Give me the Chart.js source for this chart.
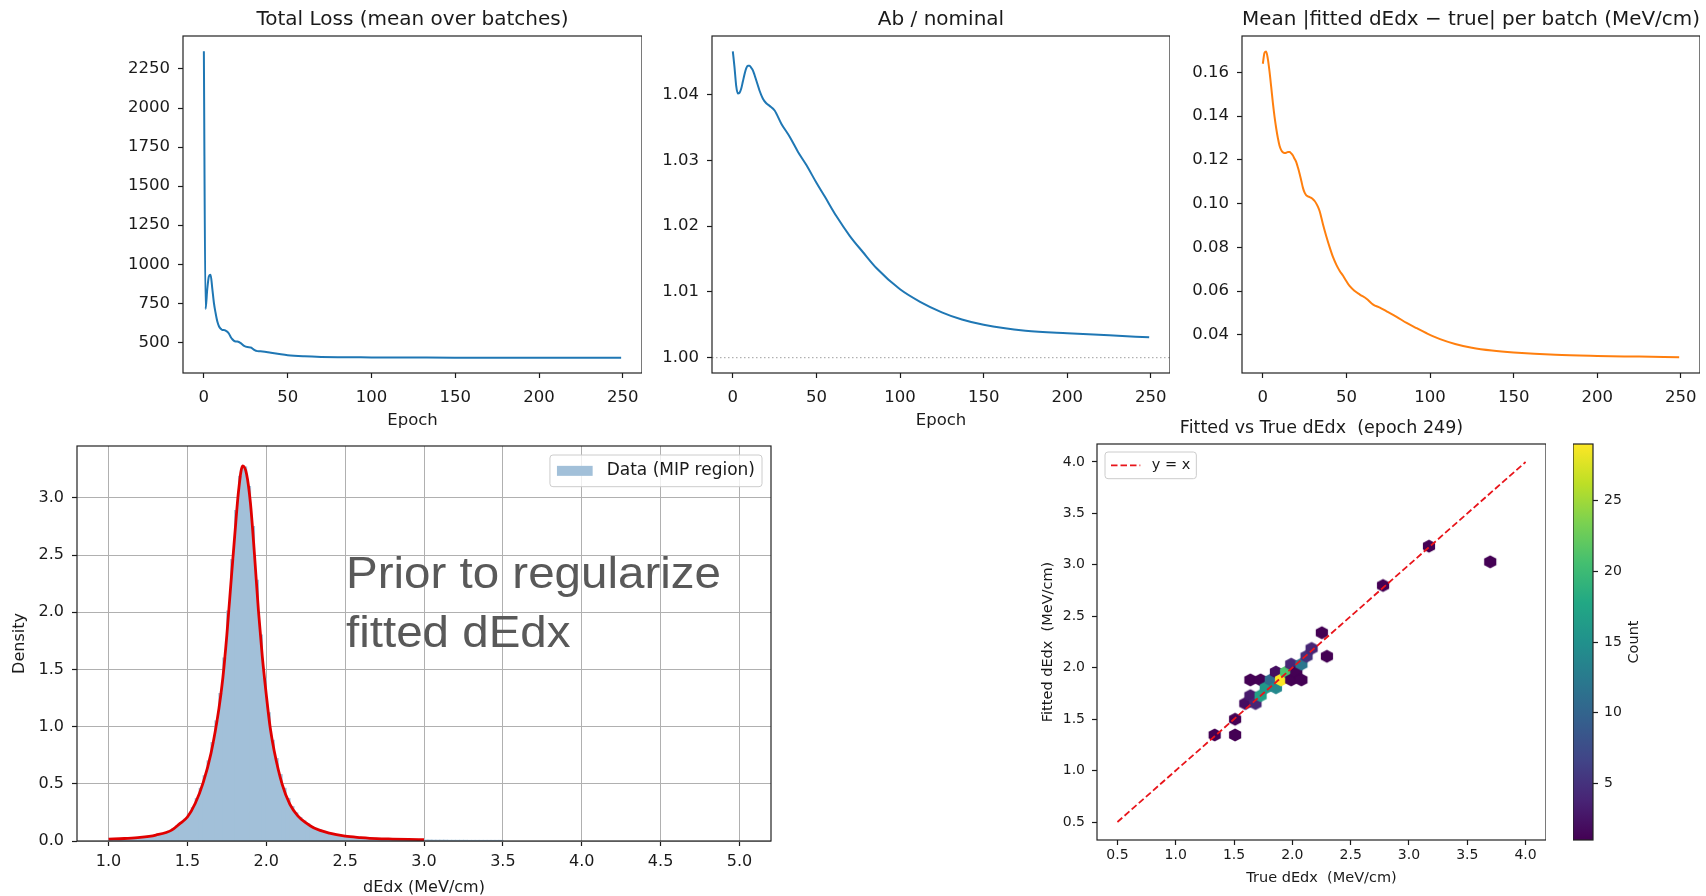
<!DOCTYPE html>
<html>
<head>
<meta charset="utf-8">
<title>dE/dx fit diagnostics</title>
<script src="https://cdn.jsdelivr.net/npm/chart.js"></script>
<style>
  html, body { margin: 0; padding: 0; background: #fff; overflow: hidden; }
  body { width: 1706px; height: 896px; position: relative; }
  canvas { position: absolute; }
  .note {
    position: absolute; left: 346px; top: 543px;
    font: 44px "Liberation Sans", Arial, sans-serif; line-height: 59px;
    color: #595959; white-space: nowrap;
    transform: scaleX(1.08); transform-origin: 0 0;
  }
</style>
</head>
<body>
<canvas id="lossChart"></canvas>
<canvas id="ratioChart"></canvas>
<canvas id="errChart"></canvas>
<canvas id="histChart"></canvas>
<canvas id="hexChart"></canvas>
<canvas id="cbarChart"></canvas>
<div class="note">Prior to regularize<br>fitted dEdx</div>
<script>
const INK = "#1a1a1a";
const FONT = "'DejaVu Sans', sans-serif";

// ---- training curves (top row) ----
const epochTicks = [0, 50, 100, 150, 200, 250];
const epochRange = [-12.45, 261.45];

const lossEpochs = [0, 1, 2, 3, 4, 5, 6, 7, 8, 9, 10, 11, 12, 13, 14, 15, 16, 17, 18, 19, 20, 22, 24, 26, 28, 30, 32, 35, 40, 45, 50, 60, 70, 80, 100, 125, 150, 175, 200, 225, 249];
const lossValues = [2363, 713, 837, 923, 933, 848, 752, 688, 635, 603, 588, 580, 580, 575, 568, 555, 535, 520, 510, 506, 505, 495, 478, 470, 467, 452, 444, 442, 433, 425, 418, 411, 407, 405, 404, 403, 402, 402, 402, 402, 402];
const lossTicks = [500, 750, 1000, 1250, 1500, 1750, 2000, 2250];
const lossRange = [304, 2461];

const ratioEpochs = [0, 1, 2, 3, 4, 5, 6, 7, 8, 9, 10, 11, 12, 13, 14, 15, 16, 18, 20, 22, 25, 29, 34, 39, 44, 50, 55, 62, 70, 78, 86, 100, 112, 125, 137, 150, 175, 200, 225, 249];
const ratioValues = [1.0466, 1.0442, 1.0414, 1.0402, 1.0403, 1.0409, 1.0420, 1.0431, 1.0440, 1.0444, 1.0444, 1.0441, 1.0437, 1.0430, 1.0422, 1.0414, 1.0406, 1.0394, 1.0387, 1.0383, 1.0376, 1.0356, 1.0336, 1.0313, 1.0293, 1.0266, 1.0245, 1.0215, 1.0185, 1.0160, 1.0136, 1.0104, 1.0085, 1.0069, 1.0058, 1.0050, 1.0041, 1.0037, 1.0034, 1.0031];
const ratioNominal = 1.0;
const ratioTicks = [1.00, 1.01, 1.02, 1.03, 1.04];
const ratioRange = [0.99767, 1.04893];

const errEpochs = [0, 1, 2, 3, 4, 5, 6, 7, 8, 9, 10, 11, 12, 13, 14, 15, 16, 17, 18, 19, 20, 21, 22, 23, 24, 25, 26, 27, 28, 29, 30, 31, 32, 33, 34, 36, 38, 40, 42, 44, 46, 48, 50, 52, 55, 58, 62, 66, 70, 74, 80, 86, 92, 98, 106, 115, 125, 137, 150, 175, 200, 225, 249];
const errValues = [0.1640, 0.1690, 0.1696, 0.1662, 0.1605, 0.1535, 0.1462, 0.1398, 0.1345, 0.1300, 0.1265, 0.1245, 0.1235, 0.1232, 0.1233, 0.1236, 0.1236, 0.1230, 0.1220, 0.1205, 0.1190, 0.1165, 0.1137, 0.1105, 0.1072, 0.1050, 0.1038, 0.1033, 0.1030, 0.1026, 0.1020, 0.1012, 0.1000, 0.0985, 0.0965, 0.0905, 0.0850, 0.0800, 0.0755, 0.0720, 0.0692, 0.0670, 0.0645, 0.0622, 0.0600, 0.0584, 0.0565, 0.0538, 0.0524, 0.0507, 0.0482, 0.0454, 0.0430, 0.0407, 0.0380, 0.0358, 0.0341, 0.0328, 0.0319, 0.0308, 0.0303, 0.0300, 0.0297];
const errTicks = [0.04, 0.06, 0.08, 0.10, 0.12, 0.14, 0.16];
const errRange = [0.0225, 0.1767];

// ---- dE/dx histogram + fit (bottom left) ----
const histStart = 1.0;
const histWidth = 0.025;
const histDensity = [
  0.016, 0.017, 0.019, 0.021, 0.023, 0.025, 0.027, 0.029, 0.032, 0.035,
  0.039, 0.045, 0.052, 0.061, 0.072, 0.085, 0.105, 0.13, 0.16, 0.19,
  0.23, 0.29, 0.37, 0.46, 0.57, 0.70, 0.86, 1.05, 1.29, 1.60,
  2.01, 2.46, 2.89, 3.19, 3.27, 3.10, 2.75, 2.28, 1.80, 1.42,
  1.12, 0.88, 0.72, 0.58, 0.46, 0.37, 0.30, 0.245, 0.205, 0.175,
  0.15, 0.125, 0.11, 0.095, 0.083, 0.073, 0.064, 0.056, 0.050, 0.045,
  0.041, 0.037, 0.034, 0.031, 0.028, 0.026, 0.024, 0.022, 0.021, 0.019,
  0.018, 0.017, 0.016, 0.015, 0.014, 0.013, 0.013, 0.012, 0.011, 0.011,
  0.007, 0.007, 0.006, 0.006, 0.006, 0.006, 0.005, 0.005, 0.005, 0.005,
  0.005, 0.004, 0.004, 0.004, 0.004, 0.004, 0.004, 0.003, 0.003, 0.003
];
const fitX = [1.00, 1.10, 1.20, 1.30, 1.40, 1.45, 1.50, 1.55, 1.60, 1.65, 1.70, 1.725, 1.75, 1.775, 1.80, 1.825, 1.85, 1.875, 1.90, 1.925, 1.95, 1.975, 2.00, 2.025, 2.05, 2.10, 2.15, 2.20, 2.25, 2.30, 2.40, 2.50, 2.60, 2.70, 2.80, 2.90, 3.00];
const fitY = [0.016, 0.022, 0.031, 0.052, 0.095, 0.15, 0.21, 0.33, 0.51, 0.77, 1.16, 1.43, 1.80, 2.24, 2.67, 3.07, 3.28, 3.21, 2.95, 2.51, 2.02, 1.61, 1.28, 0.99, 0.79, 0.50, 0.32, 0.22, 0.16, 0.115, 0.068, 0.042, 0.030, 0.021, 0.017, 0.014, 0.012];
const dedxTicks = [1.0, 1.5, 2.0, 2.5, 3.0, 3.5, 4.0, 4.5, 5.0];
const dedxRange = [0.8, 5.2];
const densityTicks = [0.0, 0.5, 1.0, 1.5, 2.0, 2.5, 3.0];
const densityRange = [0, 3.4545];

// ---- fitted vs true hexbin (bottom right) ----
const hexX = [1.334, 1.509, 1.509, 1.5965, 1.6403, 1.684, 1.6403, 1.7278, 1.7278, 1.7715, 1.8153, 1.859, 1.859, 1.9028, 1.9465, 1.9903, 1.9903, 2.034, 2.0778, 2.0778, 2.1215, 2.1653, 2.2528, 2.2965, 2.7778, 3.1715, 3.6965];
const hexY = [1.346, 1.346, 1.499, 1.652, 1.7285, 1.652, 1.8815, 1.8815, 1.7285, 1.805, 1.8815, 1.958, 1.805, 1.8815, 1.958, 2.0345, 1.8815, 1.958, 1.8815, 2.0345, 2.111, 2.1875, 2.3405, 2.111, 2.7995, 3.182, 3.029];
const hexCount = [1, 1, 1, 2, 3, 4, 1, 1, 17, 16, 11, 2, 14, 29, 21, 4, 1, 1, 1, 12, 5, 4, 1, 1, 1, 1, 1];
const identityLine = [0.5, 4.0];
const trueTicks = [0.5, 1.0, 1.5, 2.0, 2.5, 3.0, 3.5, 4.0];
const trueRange = [0.325, 4.175];
const countRange = [1, 29];
const countTicks = [5, 10, 15, 20, 25];

const viridisStops = ["#440154", "#482475", "#414487", "#355f8d", "#2a788e", "#21918c", "#22a884", "#44bf70", "#7ad151", "#bddf26", "#fde725"];

Chart.defaults.font.family = FONT;
Chart.defaults.color = INK;
Chart.defaults.animation = false;

function rgbOf(hex) {
  const n = parseInt(hex.slice(1), 16);
  return [(n >> 16) & 255, (n >> 8) & 255, n & 255];
}

function viridis(t) {
  t = Math.min(1, Math.max(0, t));
  const p = t * (viridisStops.length - 1);
  const i = Math.min(Math.floor(p), viridisStops.length - 2);
  const f = p - i;
  const a = rgbOf(viridisStops[i]), b = rgbOf(viridisStops[i + 1]);
  const c = a.map((v, k) => Math.round(v + (b[k] - v) * f));
  return `rgb(${c[0]},${c[1]},${c[2]})`;
}

function countColor(c) {
  return viridis((c - countRange[0]) / (countRange[1] - countRange[0]));
}

// pointy-top hexagon sprite used as the point style of the hexbin cells
const hexCache = {};
function hexSprite(color) {
  if (hexCache[color]) return hexCache[color];
  const c = document.createElement("canvas");
  c.width = 16; c.height = 16;
  const g = c.getContext("2d");
  const hw = 6.1, hh = 6.6;
  g.beginPath();
  g.moveTo(8, 8 - hh);
  g.lineTo(8 + hw, 8 - hh / 2);
  g.lineTo(8 + hw, 8 + hh / 2);
  g.lineTo(8, 8 + hh);
  g.lineTo(8 - hw, 8 + hh / 2);
  g.lineTo(8 - hw, 8 - hh / 2);
  g.closePath();
  g.fillStyle = color;
  g.fill();
  hexCache[color] = c;
  return c;
}

// full frame around the plot area, like matplotlib spines
const boxPlugin = {
  id: "box",
  afterDraw(chart) {
    const a = chart.chartArea, ctx = chart.ctx;
    ctx.save();
    ctx.strokeStyle = "#222";
    ctx.lineWidth = 1.2;
    ctx.strokeRect(a.left, a.top, a.right - a.left, a.bottom - a.top);
    ctx.restore();
  }
};

// legend drawn inside the plot area
const insideLegend = {
  id: "insideLegend",
  afterDatasetsDraw(chart, args, o) {
    if (!o || !o.corner) return;
    const ctx = chart.ctx, a = chart.chartArea;
    const items = chart.data.datasets.filter(d => d.label);
    ctx.save();
    ctx.font = `${o.size}px ${FONT}`;
    const textW = Math.max(...items.map(d => ctx.measureText(d.label).width));
    const w = o.pad * 2 + o.handle + o.gap + textW;
    const h = o.height * items.length;
    const x = o.corner === "tl" ? a.left + o.inset : a.right - o.inset - w;
    const y = a.top + o.inset;
    ctx.beginPath();
    ctx.roundRect(x, y, w, h, 3);
    ctx.fillStyle = "rgba(255,255,255,0.8)";
    ctx.fill();
    ctx.strokeStyle = "#cccccc";
    ctx.lineWidth = 1;
    ctx.stroke();
    items.forEach((d, i) => {
      const cy = y + o.height * (i + 0.5);
      const hx = x + o.pad;
      if (d.type === "line" || d.showLine) {
        ctx.strokeStyle = d.borderColor;
        ctx.lineWidth = d.borderWidth;
        ctx.setLineDash(d.borderDash || []);
        ctx.beginPath();
        ctx.moveTo(hx, cy);
        ctx.lineTo(hx + o.handle, cy);
        ctx.stroke();
        ctx.setLineDash([]);
      } else {
        ctx.fillStyle = d.backgroundColor;
        ctx.fillRect(hx, cy - o.patch / 2, o.handle, o.patch);
      }
      ctx.fillStyle = INK;
      ctx.textAlign = "left";
      ctx.textBaseline = "middle";
      ctx.fillText(d.label, hx + o.handle + o.gap, cy);
    });
    ctx.restore();
  }
};

// colorbar label, reading upwards on the right of the bar
const sideLabel = {
  id: "sideLabel",
  afterDraw(chart, args, o) {
    if (!o || !o.text) return;
    const a = chart.chartArea, ctx = chart.ctx;
    ctx.save();
    ctx.translate(a.right + o.offset, (a.top + a.bottom) / 2);
    ctx.rotate(-Math.PI / 2);
    ctx.font = `${o.size}px ${FONT}`;
    ctx.fillStyle = INK;
    ctx.textAlign = "center";
    ctx.textBaseline = "middle";
    ctx.fillText(o.text, 0, 0);
    ctx.restore();
  }
};

Chart.register(boxPlugin, insideLegend, sideLabel);

function place(id, left, top, width, height) {
  const c = document.getElementById(id);
  c.width = width;
  c.height = height;
  c.style.left = left + "px";
  c.style.top = top + "px";
  c.style.width = width + "px";
  c.style.height = height + "px";
  return c.getContext("2d");
}

function axis(o) {
  return {
    type: "linear",
    position: o.position,
    min: o.range[0],
    max: o.range[1],
    offset: false,
    afterBuildTicks: a => { a.ticks = o.ticks.map(v => ({ value: v })); },
    afterFit: a => {
      if (a.isHorizontal()) a.height = o.size; else a.width = o.size;
      a.paddingTop = 0; a.paddingBottom = 0; a.paddingLeft = 0; a.paddingRight = 0;
    },
    ticks: {
      font: { size: o.font },
      color: INK,
      padding: o.tickPad,
      autoSkip: false,
      maxRotation: 0,
      callback: v => o.digits == null ? String(v) : Number(v).toFixed(o.digits)
    },
    grid: {
      drawOnChartArea: !!o.grid,
      offset: false,
      color: "#b0b0b0",
      lineWidth: 1,
      tickLength: 5,
      tickColor: INK,
      tickWidth: 1.2
    },
    border: { display: false },
    title: o.title
      ? { display: true, text: o.title, color: INK, font: { size: o.titleFont || o.font }, padding: o.titlePad || 0 }
      : { display: false }
  };
}

const noChrome = { legend: { display: false }, tooltip: { enabled: false } };

function points(xs, ys) {
  return xs.map((x, i) => ({ x: x, y: ys[i] }));
}

// top row: area top 36, bottom 373, y-axis strip 70px
function trainingChart(id, areaLeft, areaRight, title, datasets, yRange, yTicks, digits, xTitle) {
  const ctx = place(id, areaLeft - 70, 0, areaRight - areaLeft + 70, 431);
  return new Chart(ctx, {
    type: "line",
    data: { datasets: datasets },
    options: {
      responsive: false,
      layout: { padding: 0, autoPadding: false },
      plugins: {
        ...noChrome,
        title: {
          display: true, text: title, fullSize: false, color: INK,
          font: { size: 20, weight: "normal" }, padding: { top: 8, bottom: 4 }
        }
      },
      scales: {
        x: axis({ position: "bottom", range: epochRange, ticks: epochTicks, size: 58, font: 16.5, tickPad: 10, title: xTitle }),
        y: axis({ position: "left", range: yRange, ticks: yTicks, digits: digits, size: 70, font: 16.5, tickPad: 8 })
      }
    }
  });
}

trainingChart("lossChart", 183, 642, "Total Loss (mean over batches)", [{
  data: points(lossEpochs, lossValues),
  borderColor: "#1f77b4", borderWidth: 2, pointRadius: 0, cubicInterpolationMode: "monotone"
}], lossRange, lossTicks, null, "Epoch");

trainingChart("ratioChart", 712, 1170, "Ab / nominal", [{
  data: points(ratioEpochs, ratioValues),
  borderColor: "#1f77b4", borderWidth: 2, pointRadius: 0, cubicInterpolationMode: "monotone"
}, {
  data: epochRange.map(e => ({ x: e, y: ratioNominal })),
  borderColor: "rgba(128,128,128,0.75)", borderWidth: 1, borderDash: [1.5, 2.5], pointRadius: 0
}], ratioRange, ratioTicks, 2, "Epoch");

trainingChart("errChart", 1242, 1700, "Mean |fitted dEdx \u2212 true| per batch (MeV/cm)", [{
  data: points(errEpochs, errValues),
  borderColor: "#ff7f0e", borderWidth: 2, pointRadius: 0, cubicInterpolationMode: "monotone"
}], errRange, errTicks, 2, null);

// bottom left: histogram with fitted curve, area 77..771 x 446..841
new Chart(place("histChart", 0, 440, 781, 457), {
  type: "bar",
  data: {
    datasets: [{
      type: "line",
      label: "",
      data: points(fitX, fitY),
      borderColor: "#e00000", borderWidth: 2.8, pointRadius: 0, cubicInterpolationMode: "monotone"
    }, {
      label: "Data (MIP region)",
      data: histDensity.map((d, i) => ({ x: histStart + (i + 0.5) * histWidth, y: d })),
      backgroundColor: "#a2c0d9",
      borderWidth: 0, barPercentage: 1, categoryPercentage: 1, inflateAmount: 0.6
    }]
  },
  options: {
    responsive: false,
    layout: { padding: { top: 6, right: 10, bottom: 0, left: 0 }, autoPadding: false },
    plugins: {
      ...noChrome,
      insideLegend: { corner: "tr", size: 17, pad: 7, handle: 35.7, gap: 14, height: 31.7, patch: 10, inset: 9 }
    },
    scales: {
      x: axis({ position: "bottom", range: dedxRange, ticks: dedxTicks, digits: 1, grid: true, size: 56, font: 16, tickPad: 6, title: "dEdx (MeV/cm)" }),
      y: axis({ position: "left", range: densityRange, ticks: densityTicks, digits: 1, grid: true, size: 77, font: 16, tickPad: 8, title: "Density", titlePad: { top: 10, bottom: 0 } })
    }
  }
});

// bottom right: hexbin of fitted vs true, area 1097..1546 x 444..840
new Chart(place("hexChart", 1035, 413, 511, 474), {
  type: "scatter",
  data: {
    datasets: [{
      label: "y = x",
      showLine: true,
      data: identityLine.map(v => ({ x: v, y: v })),
      borderColor: "#e8141a", borderWidth: 1.8, borderDash: [6.5, 3], pointRadius: 0
    }, {
      label: "",
      data: points(hexX, hexY),
      pointStyle: hexCount.map(c => hexSprite(countColor(c))),
      pointRadius: 8
    }]
  },
  options: {
    responsive: false,
    layout: { padding: 0, autoPadding: false },
    plugins: {
      ...noChrome,
      title: {
        display: true, text: "Fitted vs True dEdx  (epoch 249)", fullSize: false, color: INK,
        font: { size: 17.5, weight: "normal" }, padding: { top: 5, bottom: 5 }
      },
      insideLegend: { corner: "tl", size: 14.5, pad: 6, handle: 29.3, gap: 11.5, height: 26.7, patch: 8, inset: 8 }
    },
    scales: {
      x: axis({ position: "bottom", range: trueRange, ticks: trueTicks, digits: 1, size: 47, font: 14, tickPad: 2, title: "True dEdx  (MeV/cm)", titleFont: 14.5 }),
      y: axis({ position: "left", range: trueRange, ticks: trueTicks, digits: 1, size: 62, font: 14, tickPad: 7, title: "Fitted dEdx  (MeV/cm)", titleFont: 14.5, titlePad: { top: 5, bottom: 0 } })
    }
  }
});

// colorbar for the hexbin counts
new Chart(place("cbarChart", 1573, 438, 110, 408), {
  type: "bar",
  data: {
    labels: ["count"],
    datasets: [{
      data: [countRange],
      borderWidth: 0, barPercentage: 1, categoryPercentage: 1,
      backgroundColor: c => {
        const a = c.chart.chartArea;
        if (!a) return viridisStops[0];
        const g = c.chart.ctx.createLinearGradient(0, a.bottom, 0, a.top);
        viridisStops.forEach((s, i) => g.addColorStop(i / (viridisStops.length - 1), s));
        return g;
      }
    }]
  },
  options: {
    responsive: false,
    layout: { padding: { top: 6, bottom: 6, left: 0, right: 0 }, autoPadding: false },
    plugins: {
      ...noChrome,
      sideLabel: { text: "Count", offset: 41, size: 14.5 }
    },
    scales: {
      x: { display: false },
      y: axis({ position: "right", range: countRange, ticks: countTicks, size: 90, font: 14, tickPad: 6 })
    }
  }
});
</script>
</body>
</html>
